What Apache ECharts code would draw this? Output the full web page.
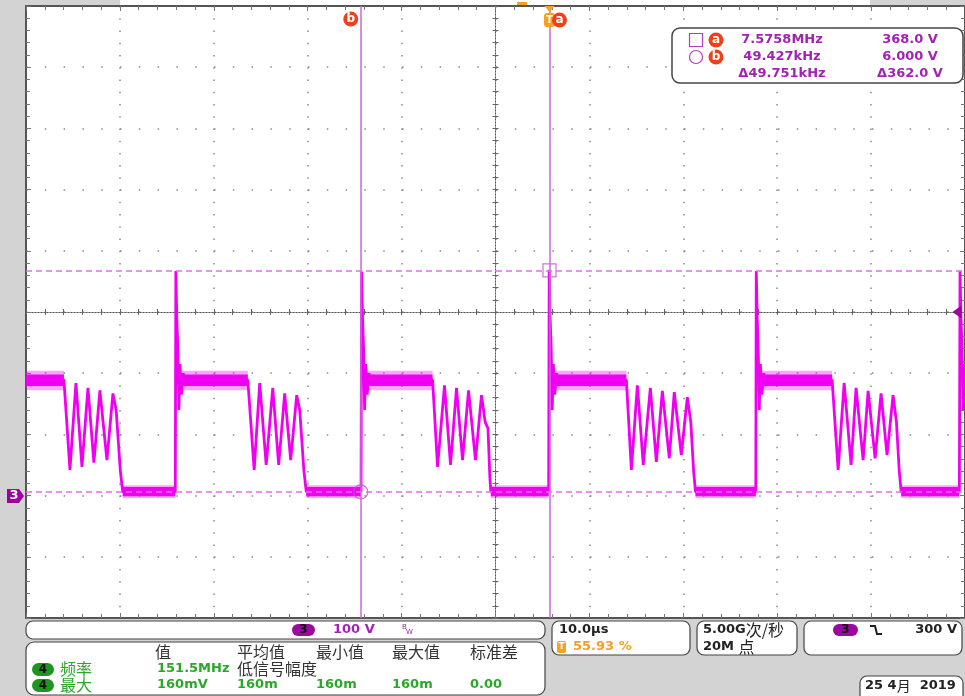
<!DOCTYPE html>
<html>
<head>
<meta charset="utf-8">
<script src="https://cdn.jsdelivr.net/npm/echarts/dist/echarts.min.js"></script>
<style>
html,body{margin:0;padding:0;background:#d3d3d3;}
#chart{width:965px;height:696px;}
</style>
</head>
<body>
<div id="chart"></div>
<script>
// ---- Channel 3 trace (time in µs, voltage in V) ----
const ch3Trace = [
  [0,189],[4.04,189],
  [4.68,42],[5.32,184],[5.96,47],[6.60,176],[7.23,54],[7.87,172],[8.62,58],[9.26,167],[9.6,140],[10.05,40],[10.3,6],
  [15.9,6],
  [15.96,367],[16.06,290],[16.17,242],[16.28,140],[16.4,215],[16.55,165],[16.75,200],[16.95,180],[17.2,189],
  [23.62,189],
  [24.3,42],[24.89,184],[25.58,50],[26.28,176],[26.91,50],[27.55,167],[28.19,58],[28.83,164],[29.15,140],[29.6,40],[29.85,6],
  [35.68,6],
  [35.74,366],[35.84,290],[35.95,242],[36.06,140],[36.18,215],[36.33,165],[36.53,200],[36.73,180],[36.98,189],
  [43.30,189],
  [43.83,47],[44.57,180],[45.21,50],[45.85,176],[46.49,58],[47.13,172],[47.87,58],[48.51,164],[48.9,120],[49.2,110],[49.4,30],[49.5,6],
  [55.66,6],
  [55.72,369],[55.82,290],[55.93,242],[56.04,140],[56.16,215],[56.31,165],[56.51,200],[56.71,180],[56.96,189],
  [63.94,189],
  [64.47,42],[65.11,180],[65.74,50],[66.49,176],[67.13,55],[67.77,171],[68.51,61],[69.04,169],[69.79,66],[70.43,161],[70.8,120],[71.1,40],[71.3,6],
  [77.72,6],
  [77.77,367],[77.87,290],[77.98,242],[78.09,140],[78.21,215],[78.36,165],[78.56,200],[78.76,180],[79.01,189],
  [85.85,189],
  [86.49,42],[87.13,184],[87.87,50],[88.40,176],[89.15,58],[89.68,171],[90.43,61],[91.06,167],[91.70,66],[92.34,164],[92.7,120],[93.0,40],[93.2,6],
  [99.4,6],
  [99.47,367],[99.57,290],[99.68,242],[99.79,140],[99.9,215],[100,180]
];
// noisy plateau bands: [start µs, end µs]
const highBands = [[0,4.04],[16.3,23.62],[36.1,43.30],[56.1,63.94],[78.1,85.85]];
const lowBands  = [[10.3,15.9],[29.85,35.68],[49.5,55.66],[71.3,77.72],[93.2,99.4]];
const highBandV = [179,198];
const highFuzzV = [172,204];
const lowBandV  = [-1,14];
const lowFuzzV  = [-4,17];
// cursors
const cursorA = {t:55.75, v:368};
const cursorB = {t:35.65, v:6};
const triggerLevel = 300;
// axes
const xRange = [0,100], xDiv = 10;
const yRange = [-200,800], yDiv = 100;

const MAG = '#f000f0';
const PURP = '#a321b5';
const GREEN = '#2aa82a';
const ORANGE = '#f7a020';
const RED = '#f0401a';

const chart = echarts.init(document.getElementById('chart'));

function bandAreas(bands, lv){
  return bands.map(b => [{xAxis:b[0], yAxis:lv[0]},{xAxis:b[1], yAxis:lv[1]}]);
}

const G = {left:26, top:6, width:940, height:612};
const mainAxisLine = {show:true, onZero:false, lineStyle:{color:'#555', width:2}};
const tick = {show:true, inside:true, length:5, lineStyle:{color:'#777'}};
const mtick = {show:true, splitNumber:5, length:4, lineStyle:{color:'#777'}};

function centerX(gi, inside){
  return {gridIndex:gi, type:'value', min:-5, max:5, interval:0.2,
    axisLine:{show:true, onZero:true, lineStyle:{color:'#555', width:1, type:[1,2]}},
    axisTick:{show:true, inside:inside, length:3, lineStyle:{color:'#666'}},
    axisLabel:{show:false}, splitLine:{show:false}};
}

const txtFont = '"DejaVu Sans", sans-serif';
const cjkFont = '"Noto Sans CJK SC", sans-serif';
function T(x, y, text, fill, font, align){
  return {type:'text', silent:true, z:100, style:{x:x, y:y, text:text, fill:fill, font:font,
    align:align||'left', verticalAlign:'middle', textAlign:align||'left', textVerticalAlign:'middle'}};
}
function R(x,y,w,h,r,fill,stroke,lw){
  return {type:'rect', silent:true, z:99, shape:{x:x,y:y,width:w,height:h,r:r},
    style:{fill:fill, stroke:stroke||null, lineWidth:lw||0}};
}
function C(cx,cy,r,fill,stroke,lw){
  return {type:'circle', silent:true, z:99, shape:{cx:cx,cy:cy,r:r},
    style:{fill:fill, stroke:stroke||null, lineWidth:lw||0}};
}
const B13 = 'bold 13px ' + txtFont;
const N16 = '16px ' + cjkFont;

const graphics = [
  // white strip above graticule top
  R(120,0,750,5,0,'#fff'),
  R(517,2,10,3,0,ORANGE),
  // ground marker of channel 3
  {type:'polygon', silent:true, z:100, shape:{points:[[7,489],[19,489],[24,496],[19,503],[7,503]]}, style:{fill:'#a000a0'}},
  T(14,496,'3','#fff','bold 13px '+txtFont,'center'),
  // cursor readout box
  R(672,28,291,55,8,'#fff','#444',1.5),
  R(689.5,33.5,13,13,0,null,'#b040c0',1.2),
  C(716,40,7.5,RED), T(716,40,'a','#fff','bold 12px '+txtFont,'center'),
  C(696,57,6.5,null,'#b040c0',1.2),
  C(716,57,7.5,RED), T(716,57,'b','#fff','bold 12px '+txtFont,'center'),
  T(782,40,'7.5758MHz',PURP,B13,'center'),
  T(782,57,'49.427kHz',PURP,B13,'center'),
  T(782,74,'Δ49.751kHz',PURP,B13,'center'),
  T(910,40,'368.0 V',PURP,B13,'center'),
  T(910,57,'6.000 V',PURP,B13,'center'),
  T(910,74,'Δ362.0 V',PURP,B13,'center'),
  // bottom boxes
  R(26,621,519,18,7,'#fff','#444',1.2),
  R(292,624,23,12,6,'#9a0a9e'), T(303.5,630,'3','#111','bold 12px '+txtFont,'center'),
  T(333,630,'100 V',PURP,B13),
  T(402,627,'B',PURP,'7px '+txtFont), T(406,632,'W',PURP,'7px '+txtFont),
  R(26,642,519,53,8,'#fff','#444',1.2),
  T(155,652,'值','#333',N16), T(237,652,'平均值','#333',N16), T(316,652,'最小值','#333',N16),
  T(392,652,'最大值','#333',N16), T(470,652,'标准差','#333',N16),
  R(32,663,22,13,6.5,'#1e961e'), T(43,669.5,'4','#111','bold 12px '+txtFont,'center'),
  T(60,669,'频率',GREEN,N16), T(157,669,'151.5MHz',GREEN,B13), T(237,669,'低信号幅度','#333',N16),
  R(32,679,22,13,6.5,'#1e961e'), T(43,685.5,'4','#111','bold 12px '+txtFont,'center'),
  T(60,685,'最大',GREEN,N16), T(157,685,'160mV',GREEN,B13), T(237,685,'160m',GREEN,B13),
  T(316,685,'160m',GREEN,B13), T(392,685,'160m',GREEN,B13), T(470,685,'0.00',GREEN,B13),
  R(552,621,138,34,7,'#fff','#444',1.2),
  T(559,630,'10.0µs','#222',B13),
  R(557,641,9,12,2,ORANGE), T(561.5,647,'T','#fff','bold 9px '+txtFont,'center'),
  T(573,647,'55.93 %',ORANGE,B13),
  R(697,621,100,34,7,'#fff','#444',1.2),
  {type:'text', silent:true, z:100, style:{x:703,y:630,text:'{a|5.00G}{c|次/秒}',align:'left',verticalAlign:'middle',textVerticalAlign:'middle',
    rich:{a:{font:B13, fill:'#222'}, c:{font:N16, fill:'#222'}}}},
  {type:'text', silent:true, z:100, style:{x:703,y:647,text:'{a|20M }{c|点}',align:'left',verticalAlign:'middle',textVerticalAlign:'middle',
    rich:{a:{font:B13, fill:'#222'}, c:{font:N16, fill:'#222'}}}},
  R(804,621,158,34,7,'#fff','#444',1.2),
  R(833,624,25,12,6,'#9a0a9e'), T(845.5,630,'3','#111','bold 12px '+txtFont,'center'),
  {type:'polyline', silent:true, z:100, shape:{points:[[870,626],[875,626],[877,634],[882,634]]}, style:{stroke:'#222', lineWidth:2, fill:null}},
  T(957,630,'300 V','#222',B13,'right'),
  R(860,676,103,30,7,'#fff','#444',1.2),
  {type:'text', silent:true, z:100, style:{x:865,y:686,text:'{a|25 4}{c|月}{a|  2019}',align:'left',verticalAlign:'middle',textVerticalAlign:'middle',
    rich:{a:{font:'bold 13px '+txtFont, fill:'#222'}, c:{font:'14px '+cjkFont, fill:'#222'}}}}
];

const mkLabel = (t, size) => ({show:true, position:'inside', formatter:t, color:'#fff', fontWeight:'bold', fontSize:size||12, fontFamily:'DejaVu Sans'});

const option = {
  animation:false,
  backgroundColor:'#d3d3d3',
  grid:[
    Object.assign({show:true, backgroundColor:'#fff', borderWidth:0}, G),
    Object.assign({show:false}, G),
    Object.assign({show:false}, G)
  ],
  xAxis:[
    {gridIndex:0, type:'value', min:xRange[0], max:xRange[1], interval:xDiv, position:'bottom',
      axisLine:mainAxisLine, axisTick:tick, minorTick:mtick, axisLabel:{show:false},
      splitLine:{show:true, lineStyle:{color:'#8a8a8a', width:1.5, type:[1.5,10.74]}}},
    {gridIndex:0, type:'value', min:xRange[0], max:xRange[1], interval:xDiv, position:'top',
      axisLine:mainAxisLine, axisTick:tick, minorTick:mtick, axisLabel:{show:false}, splitLine:{show:false}},
    centerX(1,true), centerX(2,false)
  ],
  yAxis:[
    {gridIndex:0, type:'value', min:yRange[0], max:yRange[1], interval:yDiv, position:'left',
      axisLine:mainAxisLine, axisTick:tick, minorTick:mtick, axisLabel:{show:false},
      splitLine:{show:true, lineStyle:{color:'#8a8a8a', width:1.5, type:[1.5,17.3]}}},
    {gridIndex:0, type:'value', min:yRange[0], max:yRange[1], interval:yDiv, position:'right',
      axisLine:mainAxisLine, axisTick:tick, minorTick:mtick, axisLabel:{show:false}, splitLine:{show:false}},
    centerX(1,true), centerX(2,false)
  ],
  series:[
    {name:'bands', type:'line', xAxisIndex:0, yAxisIndex:0, data:[], z:2, silent:true,
      markArea:{silent:true, itemStyle:{color:MAG, opacity:0.35},
        data: bandAreas(highBands, highFuzzV).concat(bandAreas(lowBands, lowFuzzV))}},
    {name:'bandsCore', type:'line', xAxisIndex:0, yAxisIndex:0, data:[], z:2, silent:true,
      markArea:{silent:true, itemStyle:{color:MAG, opacity:1},
        data: bandAreas(highBands, highBandV).concat(bandAreas(lowBands, lowBandV))}},
    {name:'CH3', type:'line', xAxisIndex:0, yAxisIndex:0, data:ch3Trace, showSymbol:false, symbol:'none',
      z:3, lineStyle:{color:MAG, width:2.8}, silent:true},
    {name:'cursors', type:'scatter', xAxisIndex:0, yAxisIndex:0, z:4, silent:true,
      itemStyle:{color:'rgba(0,0,0,0)', borderColor:'#c050c0', borderWidth:1.2},
      data:[{value:[cursorA.t,cursorA.v], symbol:'rect', symbolSize:13},
            {value:[cursorB.t,cursorB.v], symbol:'circle', symbolSize:14}],
      markLine:{silent:true, symbol:['none','none'], label:{show:false},
        data:[
          {xAxis:cursorA.t, lineStyle:{color:'#c66ad6', type:'solid', width:1.5}},
          {xAxis:cursorB.t, lineStyle:{color:'#c66ad6', type:'solid', width:1.5}},
          {yAxis:cursorA.v, lineStyle:{color:'#e070e8', type:[6,4], width:1.5}},
          {yAxis:cursorB.v, lineStyle:{color:'#e070e8', type:[6,4], width:1.5}}
        ]},
      markPoint:{silent:true,
        data:[
          {coord:[cursorA.t, yRange[1]], symbol:'triangle', symbolRotate:180, symbolSize:[10,6], symbolOffset:[0,3], itemStyle:{color:ORANGE}, label:{show:false}},
          {coord:[cursorA.t, yRange[1]], symbol:'roundRect', symbolSize:[11,14], symbolOffset:[0,14], itemStyle:{color:ORANGE}, label:mkLabel('T',10)},
          {coord:[cursorA.t, yRange[1]], symbol:'circle', symbolSize:15, symbolOffset:[10,14], itemStyle:{color:RED}, label:mkLabel('a')},
          {coord:[cursorB.t, yRange[1]], symbol:'circle', symbolSize:15, symbolOffset:[-10,13], itemStyle:{color:RED}, label:mkLabel('b')},
          {coord:[xRange[1], triggerLevel], symbol:'path://M10,0 L10,14 L0,7 Z', symbolSize:[9,13], symbolOffset:[-8,0], itemStyle:{color:'#a000a0'}, label:{show:false}}
        ]}
    }
  ],
  graphic:{elements:graphics}
};
chart.setOption(option);
</script>
</body>
</html>
